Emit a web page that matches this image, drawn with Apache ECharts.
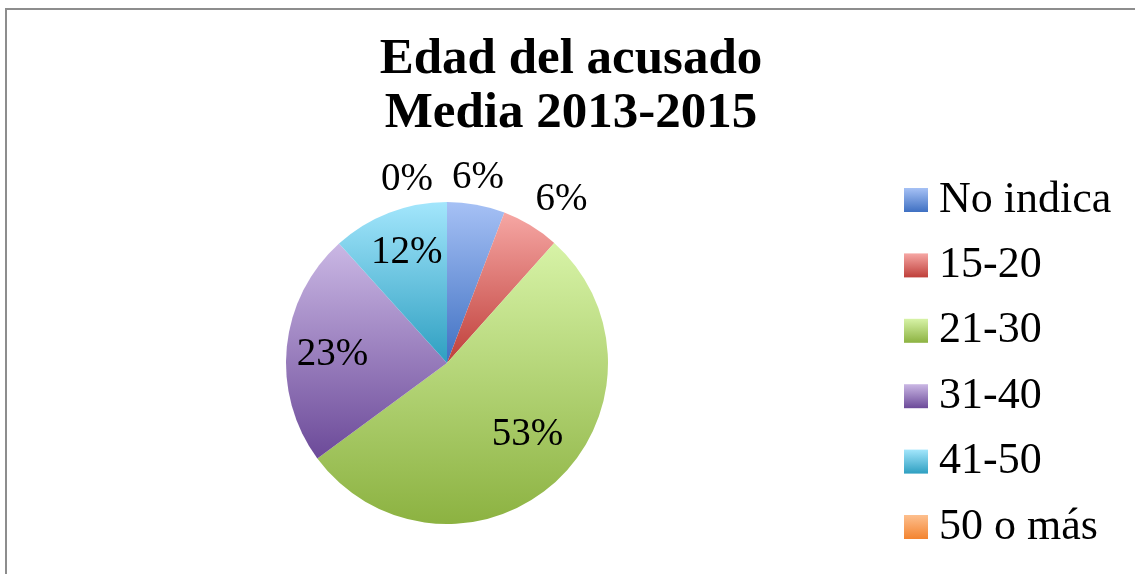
<!DOCTYPE html>
<html>
<head>
<meta charset="utf-8">
<script src="https://cdn.jsdelivr.net/npm/echarts@6/dist/echarts.min.js"></script>
<style>
  html, body { margin: 0; padding: 0; background: #ffffff; }
  #chart { width: 1135px; height: 574px; }
</style>
</head>
<body>
<div id="chart"></div>
<script>
// ---- data ----
const titleLines = ['Edad del acusado', 'Media 2013-2015'];
const categories = ['No indica', '15-20', '21-30', '31-40', '41-50', '50 o más'];
const values = [5.8, 5.8, 53.3, 23.4, 11.7, 0];

// ---- styles ----
const topColors = ['#a6c1f5', '#f6a7a4', '#d7f3a7', '#cab7e4', '#a3e6fc', '#fdbf8e'];
const bottomColors = ['#3f70c2', '#bf3f3a', '#8cb241', '#6c4a99', '#2e9fc1', '#f38430'];
const outsideLineLen = [27, 38, 0, 0, 0, 22];
const labelNudge = [[-3, 0], [11, 7], [3, -13], [0, 3], [1, -3], [-40, 0]];
const FONT = 'Liberation Serif';

const total = values.reduce((a, b) => a + b, 0);
const isOutside = values.map(v => v / total < 0.1);

function grad(i) {
  return {
    type: 'linear', x: 0, y: 0, x2: 0, y2: 1,
    colorStops: [{ offset: 0, color: topColors[i] }, { offset: 1, color: bottomColors[i] }]
  };
}

const mainData = categories.map((name, i) => ({
  name: name, value: values[i], itemStyle: { color: grad(i) }
}));

const labelData = categories.map((name, i) => ({
  name: name,
  value: values[i],
  label: { position: isOutside[i] ? 'outside' : 'inside' },
  labelLine: { show: isOutside[i], length: outsideLineLen[i], length2: 0, lineStyle: { opacity: 0 } }
}));

const chart = echarts.init(document.getElementById('chart'), null, { renderer: 'canvas' });
chart.setOption({
  animation: false,
  backgroundColor: '#ffffff',
  graphic: [{
    type: 'rect', silent: true, z: -10,
    shape: { x: 6, y: 9, width: 1160, height: 600 },
    style: { fill: 'none', stroke: '#8d8d8d', lineWidth: 2 }
  }],
  title: {
    text: titleLines.join('\n'),
    left: 571, top: 33, padding: 0, textAlign: 'center',
    textStyle: { fontFamily: FONT, fontWeight: 'bold', fontSize: 51, lineHeight: 54, color: '#000' }
  },
  legend: {
    orient: 'vertical', left: 904, top: 178, padding: 0,
    itemWidth: 24, itemHeight: 24, itemGap: 21.4,
    icon: 'rect', selectedMode: false,
    data: categories,
    textStyle: { fontFamily: FONT, fontSize: 44, lineHeight: 44, color: '#000', padding: [0, 0, 0, 6] }
  },
  series: [{
    type: 'pie',
    center: [447, 363],
    radius: 161,
    startAngle: 90,
    clockwise: true,
    silent: true,
    label: { show: false },
    labelLine: { show: false },
    emphasis: { disabled: true },
    data: mainData
  }, {
    type: 'pie',
    center: [447, 363],
    radius: [63, 161],
    startAngle: 90,
    clockwise: true,
    silent: true,
    avoidLabelOverlap: false,
    itemStyle: { color: 'rgba(0,0,0,0)', borderWidth: 0 },
    emphasis: { disabled: true },
    label: {
      show: true,
      fontFamily: FONT, fontSize: 39, color: '#000',
      formatter: p => Math.round(p.percent) + '%'
    },
    labelLayout: function (p) {
      const i = p.dataIndex;
      const n = labelNudge[i];
      if (isOutside[i] && p.labelLinePoints && p.labelLinePoints[1]) {
        const q = p.labelLinePoints[1];
        return { x: q[0] + n[0], y: q[1] + n[1], align: 'center', verticalAlign: 'middle' };
      }
      return { dx: n[0], dy: n[1] };
    },
    data: labelData
  }]
});
</script>
</body>
</html>
